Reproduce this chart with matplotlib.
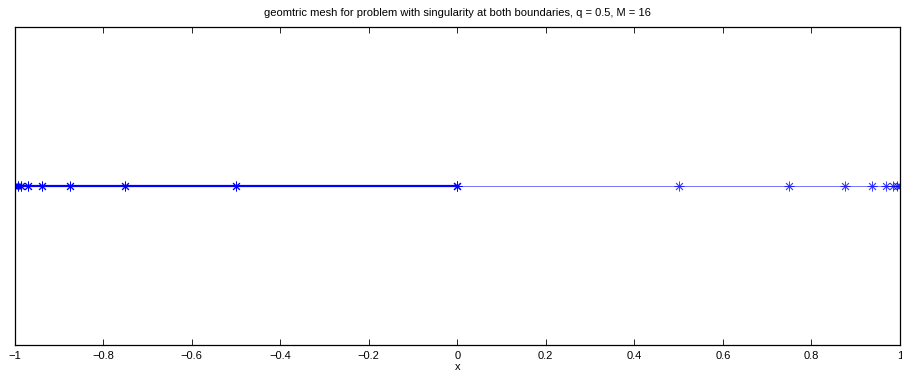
import matplotlib
matplotlib.use("Agg")
import matplotlib.pyplot as plt

plt.rcParams['font.family'] = ['Liberation Sans', 'DejaVu Sans']

left_x = [-1.0, -0.9921875, -0.984375, -0.96875, -0.9375, -0.875, -0.75, -0.5, 0.0]
right_x = [0.0, 0.5, 0.75, 0.875, 0.9375, 0.96875, 0.984375, 0.9921875, 1.0]
left_y = [0] * len(left_x)
right_y = [0] * len(right_x)
xticks = [-1, -0.8, -0.6, -0.4, -0.2, 0, 0.2, 0.4, 0.6, 0.8, 1]
xticklabels = ['\u22121', '\u22120.8', '\u22120.6', '\u22120.4', '\u22120.2', '0', '0.2', '0.4', '0.6', '0.8', '1']

fig = plt.figure(figsize=(9.02, 3.73), dpi=100)
ax = fig.add_axes([14.5/902, 1-345/373, (900-14.5)/902, (345-27)/373])

star = (8, 2, 0)
ax.plot(left_x, left_y, color='#0000ff', lw=1.6, marker=star, ms=7, mew=0.7)
ax.plot(right_x, right_y, color='#0000ff', lw=0.5, marker=star, ms=7, mew=0.6, alpha=0.75)

ax.set_xlim(-1, 1)
ax.set_ylim(-1, 1)
ax.set_yticks([])
ax.set_xticks(xticks)
ax.set_xticklabels(xticklabels)
ax.tick_params(axis='x', direction='in', length=4, width=0.6, top=True, labelsize=8, pad=4.5, colors='black')
for s in ax.spines.values():
    s.set_linewidth(0.9)
ax.set_xlabel('x', fontsize=8, labelpad=0.5)
ax.set_title('geomtric mesh for problem with singularity at both boundaries, q = 0.5, M = 16', fontsize=8, pad=8)

fig.savefig('out.png', dpi=100)
